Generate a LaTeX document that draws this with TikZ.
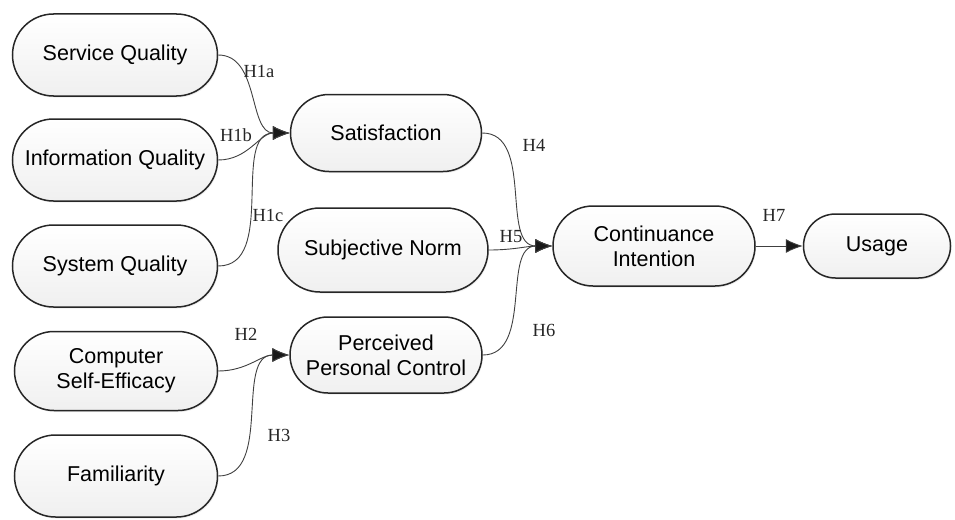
\documentclass[tikz,border=0pt]{standalone}
\usepackage{fontspec}
\setmainfont{Liberation Sans}
\newfontfamily\hypfont{Liberation Serif}
\usetikzlibrary{shapes.misc,arrows.meta,shadows}
\begin{document}
\begin{tikzpicture}[x=1pt,y=-1pt,
  box/.style={rounded rectangle, draw=black!85, line width=1.5pt,
    top color=white, bottom color=black!6,
    font=\fontsize{21.5}{25}\selectfont, align=center, inner sep=0pt,
    drop shadow={opacity=0.15,shadow xshift=1pt,shadow yshift=-1.5pt}},
  hyp/.style={font=\hypfont\fontsize{18.5}{21}\selectfont, inner sep=0pt, text=black!85},
  link/.style={draw=black!75, line width=0.9pt, -{Latex[length=17pt,width=14pt,fill=black!90]}}]
\useasboundingbox (0,0) rectangle (955,519);

% left column
\node[box, minimum width=205pt, minimum height=82pt] (sq)  at (115,55)  {Service Quality};
\node[box, minimum width=205pt, minimum height=82pt] (iq)  at (115,160) {Information Quality};
\node[box, minimum width=205pt, minimum height=82pt] (sys) at (115,266) {System Quality};
\node[box, minimum width=203pt, minimum height=79pt] (cse) at (116,371) {Computer\\Self-Efficacy};
\node[box, minimum width=203pt, minimum height=82pt] (fam) at (116,476) {Familiarity};

% middle column
\node[box, minimum width=191pt, minimum height=77pt] (sat) at (386,133) {Satisfaction};
\node[box, minimum width=210pt, minimum height=84pt] (sn)  at (383,250) {Subjective Norm};
\node[box, minimum width=192pt, minimum height=76pt] (ppc) at (386,355) {Perceived\\Personal Control};

% right
\node[box, minimum width=202pt, minimum height=80pt] (ci) at (654,246) {Continuance\\Intention};
\node[box, minimum width=147pt, minimum height=64pt] (us) at (877,246) {Usage};

% links
\draw[link] (sq.east)  to[out=0,in=180] (sat.west);
\draw[link] (iq.east)  to[out=0,in=180] (sat.west);
\draw[link] (sys.east) to[out=0,in=180] (sat.west);
\draw[link] (sat.east) to[out=0,in=180] (ci.west);
\draw[link] (sn.east)  to[out=0,in=180] (ci.west);
\draw[link] (ppc.east) to[out=0,in=180] (ci.west);
\draw[link] (cse.east) to[out=0,in=180] (ppc.west);
\draw[link] (fam.east) to[out=0,in=180] (ppc.west);
\draw[link] (ci.east) -- (us.west);

% labels
\node[hyp] (h1a) at (259,71)  {H1a};
\node[hyp] (h1b) at (236,135) {H1b};
\node[hyp] (h1c) at (268,215) {H1c};
\node[hyp] (h2)  at (246,334) {H2};
\node[hyp] (h3)  at (279,435) {H3};
\node[hyp] (h4)  at (534,145) {H4};
\node[hyp] (h5)  at (511,237) {H5};
\node[hyp] (h6)  at (544,330) {H6};
\node[hyp] (h7)  at (774,215) {H7};
\end{tikzpicture}
\end{document}
